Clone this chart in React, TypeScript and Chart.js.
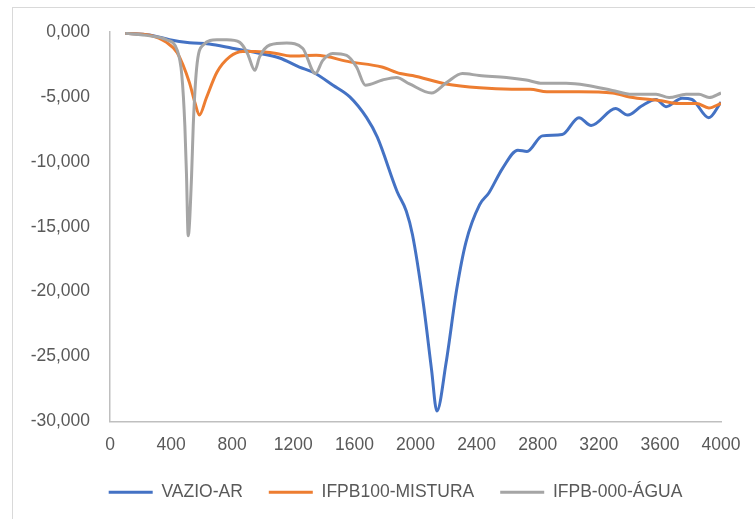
import React, { useEffect, useRef } from "react";
import { Chart, registerables } from "chart.js";

Chart.register(...registerables);

const seriesNames = ["VAZIO-AR", "IFPB100-MISTURA", "IFPB-000-ÁGUA"];
const seriesColors = ["#4472C4", "#ED7D31", "#A5A5A5"];

const vazioX = [100, 260, 390, 520, 650, 800, 960, 1110, 1240, 1330, 1460, 1570, 1680, 1750, 1880, 1940, 1980, 2050, 2105, 2140, 2200, 2270, 2330, 2420, 2480, 2570, 2670, 2730, 2830, 2960, 3070, 3150, 3310, 3390, 3480, 3575, 3640, 3745, 3810, 3920, 4000];
const vazioY = [-0.1, -0.23, -0.6, -0.83, -0.93, -1.25, -1.6, -2.0, -2.7, -3.1, -4.1, -5.0, -6.6, -8.1, -12.3, -13.8, -15.6, -20.8, -26.0, -29.2, -25.5, -19.8, -16.2, -13.3, -12.4, -10.5, -9.1, -9.2, -8.0, -7.9, -6.6, -7.2, -5.9, -6.4, -5.7, -5.2, -5.75, -5.1, -5.2, -6.6, -5.4];

const misturaX = [100, 260, 370, 440, 520, 555, 585, 630, 700, 785, 870, 950, 1090, 1180, 1350, 1570, 1780, 1900, 1980, 2200, 2420, 2630, 2750, 2860, 3070, 3290, 3400, 3610, 3720, 3840, 3920, 4000];
const misturaY = [-0.1, -0.25, -0.8, -1.6, -3.9, -5.4, -6.4, -5.1, -3.1, -1.9, -1.5, -1.5, -1.65, -1.85, -1.8, -2.3, -2.7, -3.2, -3.35, -4.0, -4.3, -4.4, -4.4, -4.6, -4.6, -4.7, -5.0, -5.3, -5.5, -5.5, -5.85, -5.5];

const aguaX = [100, 260, 370, 440, 470, 490, 501, 512, 534, 545, 567, 610, 700, 765, 850, 900, 948, 980, 1046, 1157, 1261, 1345, 1392, 1458, 1549, 1614, 1672, 1784, 1876, 1961, 2105, 2203, 2307, 2418, 2595, 2725, 2830, 2987, 3118, 3288, 3418, 3575, 3660, 3771, 3856, 3922, 4000];
const aguaY = [-0.1, -0.3, -0.6, -1.4, -3.3, -7.2, -11.1, -15.7, -11.1, -7.2, -2.8, -1.0, -0.6, -0.6, -0.8, -1.65, -2.95, -1.9, -1.0, -0.85, -1.25, -3.2, -2.2, -1.65, -1.8, -2.7, -4.1, -3.7, -3.5, -4.0, -4.7, -3.9, -3.2, -3.35, -3.5, -3.7, -3.95, -3.95, -4.1, -4.5, -4.8, -4.8, -5.05, -4.8, -4.8, -5.05, -4.7];

const xMin = 0;
const xMax = 4000;
const xStep = 400;
const yMin = -30;
const yMax = 0;
const yStep = 5;

const FONT = "'Liberation Sans', sans-serif";
const FONT_SIZE = 17.5;
const TEXT = "#595959";

function pts(xs: number[], ys: number[]) {
  return xs.map((x, i) => ({ x, y: ys[i] }));
}

const legendShift = {
  id: "legendShift",
  afterLayout(chart: any) {
    if (chart.legend) {
      chart.legend.left = 70;
    }
  },
};

export default function App() {
  const ref = useRef<HTMLCanvasElement | null>(null);
  useEffect(() => {
    if (!ref.current) return;
    const data = [pts(vazioX, vazioY), pts(misturaX, misturaY), pts(aguaX, aguaY)];
    const chart = new Chart(ref.current, {
      type: "scatter",
      data: {
        datasets: data.map((d, i) => ({
          label: seriesNames[i],
          data: d,
          showLine: true,
          borderColor: seriesColors[i],
          backgroundColor: seriesColors[i],
          borderWidth: 3,
          pointRadius: 0,
          pointHoverRadius: 0,
          cubicInterpolationMode: "monotone" as const,
          order: 3 - i,
        })),
      },
      plugins: [legendShift],
      options: {
        responsive: false,
        animation: false,
        layout: { padding: { top: 32, right: 34, left: 0, bottom: 8 } },
        plugins: {
          tooltip: { enabled: false },
          legend: {
            position: "bottom",
            labels: {
              usePointStyle: true,
              pointStyle: "line",
              pointStyleWidth: 44,
              padding: 26,
              color: TEXT,
              font: { family: FONT, size: FONT_SIZE },
              sort: (a: any, b: any) => a.datasetIndex - b.datasetIndex,
            },
          },
        },
        scales: {
          x: {
            type: "linear",
            min: xMin,
            max: xMax,
            grid: { display: false, drawTicks: false },
            border: { display: true, color: "#BFBFBF", width: 1.5 },
            ticks: {
              stepSize: xStep,
              padding: 13,
              color: TEXT,
              font: { family: FONT, size: FONT_SIZE },
              maxRotation: 0,
              callback: (v: any) => String(v),
            },
            afterFit: (s: any) => {
              s.height = 36;
            },
          },
          y: {
            type: "linear",
            min: yMin,
            max: yMax,
            grid: { display: false, drawTicks: false },
            border: { display: true, color: "#BFBFBF", width: 1.5 },
            ticks: {
              stepSize: yStep,
              padding: 20,
              color: TEXT,
              font: { family: FONT, size: FONT_SIZE },
              callback: (v: any) => Number(v).toFixed(3).replace(".", ","),
            },
            afterFit: (s: any) => {
              s.width = 110;
            },
          },
        },
      },
    });
    return () => chart.destroy();
  }, []);
  return (
    <div style={{ position: "fixed", left: 0, top: 0, width: 755, height: 519, background: "#fff", overflow: "hidden" }}>
      <div style={{ position: "absolute", left: 12, top: 7, width: 760, height: 530, border: "1px solid #D9D9D9" }} />
      <canvas ref={ref} width={755} height={519} style={{ position: "absolute", left: 0, top: 0, width: 755, height: 519 }} />
    </div>
  );
}
